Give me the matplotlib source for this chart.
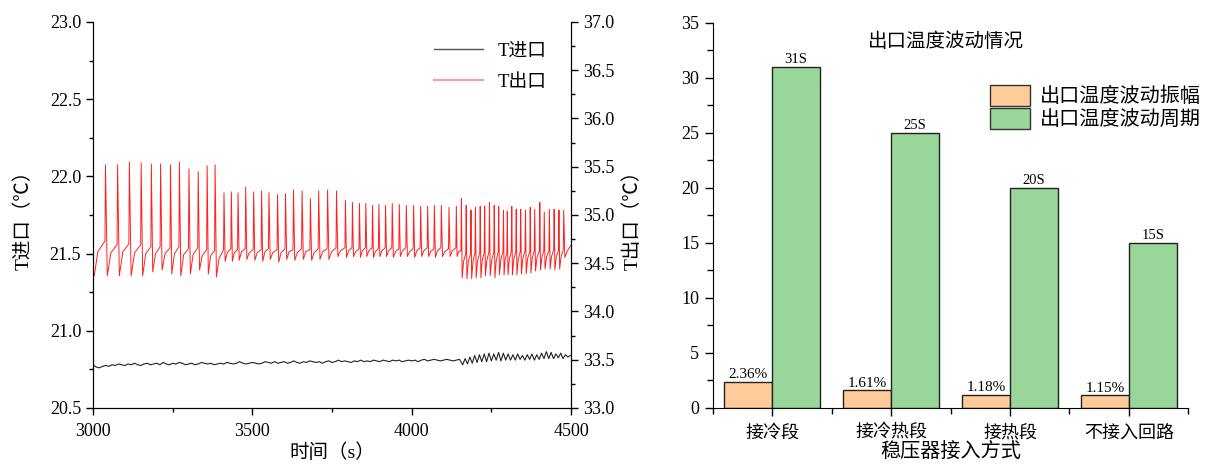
import numpy as np
import matplotlib
matplotlib.use('Agg')
import matplotlib.pyplot as plt
from matplotlib.ticker import MultipleLocator, FormatStrFormatter
from matplotlib.patches import Patch
from matplotlib.lines import Line2D

plt.rcParams['font.family'] = ['Liberation Serif', 'Noto Sans CJK SC']
plt.rcParams['axes.unicode_minus'] = False

# ---- left chart: inlet temperature (black, left axis), sampled every 10 s up to 4150 s
black_a = [
    20.78, 20.765, 20.76, 20.77, 20.775, 20.77, 20.78, 20.775, 20.785, 20.78,
    20.775, 20.785, 20.78, 20.79, 20.78, 20.775, 20.785, 20.79, 20.78, 20.785,
    20.79, 20.78, 20.795, 20.785, 20.78, 20.79, 20.785, 20.795, 20.79, 20.78,
    20.785, 20.79, 20.78, 20.785, 20.795, 20.79, 20.785, 20.79, 20.78, 20.785,
    20.79, 20.785, 20.795, 20.79, 20.785, 20.79, 20.8, 20.79, 20.785, 20.79,
    20.795, 20.79, 20.785, 20.79, 20.8, 20.795, 20.79, 20.8, 20.79, 20.795,
    20.8, 20.79, 20.795, 20.805, 20.795, 20.79, 20.8, 20.795, 20.805, 20.8,
    20.795, 20.8, 20.79, 20.8, 20.805, 20.795, 20.8, 20.81, 20.8, 20.805,
    20.8, 20.795, 20.805, 20.8, 20.81, 20.8, 20.805, 20.8, 20.81, 20.805,
    20.8, 20.81, 20.805, 20.8, 20.81, 20.805, 20.81, 20.8, 20.805, 20.81,
    20.805, 20.81, 20.8, 20.81, 20.815, 20.805, 20.81, 20.815, 20.81, 20.805,
    20.81, 20.815, 20.81, 20.805, 20.81, 20.815,
]
# after 4160 s the inlet oscillates, sampled every 7.5 s
black_b = [
    20.78, 20.82, 20.785, 20.83, 20.79, 20.84, 20.795, 20.845, 20.8, 20.85,
    20.8, 20.855, 20.805, 20.85, 20.81, 20.86, 20.805, 20.855, 20.81, 20.85,
    20.81, 20.845, 20.81, 20.85, 20.815, 20.84, 20.81, 20.845, 20.815, 20.85,
    20.81, 20.845, 20.815, 20.855, 20.82, 20.865, 20.82, 20.86, 20.82, 20.85,
    20.825, 20.855, 20.82, 20.845, 20.83, 20.84,
]

# ---- outlet temperature (red, right axis): one entry per spike
spike_t = [
    3039, 3077, 3114, 3151, 3183, 3212, 3243, 3271, 3301, 3330, 3358, 3383,
    3411, 3434, 3455, 3479, 3504, 3529, 3552, 3579, 3604, 3629, 3656, 3682,
    3708, 3736, 3764, 3792, 3814, 3836, 3856, 3877, 3897, 3918, 3939, 3961,
    3983, 4006, 4028, 4050, 4071, 4093, 4117, 4140,
    4156, 4171, 4186, 4200, 4215, 4229, 4244, 4259, 4273, 4288, 4300, 4314,
    4328, 4342, 4357, 4372, 4386, 4402, 4416, 4432, 4447, 4462, 4477,
]
spike_peak = [
    35.52, 35.52, 35.55, 35.54, 35.53, 35.53, 35.52, 35.55, 35.48, 35.45, 35.51, 35.52,
    35.23, 35.24, 35.23, 35.29, 35.24, 35.25, 35.23, 35.21, 35.22, 35.26, 35.25, 35.17,
    35.25, 35.26, 35.25, 35.15, 35.13, 35.12, 35.12, 35.10, 35.11, 35.10, 35.12, 35.11,
    35.10, 35.10, 35.09, 35.09, 35.10, 35.10, 35.08, 35.09,
    35.17, 35.10, 35.05, 35.08, 35.09, 35.09, 35.13, 35.10, 35.09, 35.05, 35.04, 35.09,
    35.06, 35.06, 35.05, 35.08, 35.06, 35.13, 35.03, 35.06, 35.06, 35.05, 35.05,
]
spike_low = [
    34.37, 34.37, 34.37, 34.37, 34.41, 34.43, 34.39, 34.37, 34.39, 34.43, 34.39, 34.36,
    34.52, 34.52, 34.53, 34.54, 34.53, 34.52, 34.54, 34.51, 34.54, 34.53, 34.54, 34.53,
    34.54, 34.54, 34.57, 34.56, 34.57, 34.56, 34.57, 34.56, 34.57, 34.57, 34.56, 34.57,
    34.57, 34.56, 34.57, 34.57, 34.56, 34.57, 34.57, 34.57,
    34.35, 34.34, 34.34, 34.35, 34.35, 34.37, 34.37, 34.35, 34.38, 34.38, 34.38, 34.38,
    34.38, 34.39, 34.39, 34.40, 34.42, 34.43, 34.44, 34.44, 34.43, 34.44, 34.56,
]
spike_knee = [
    34.61, 34.62, 34.61, 34.60, 34.60, 34.60, 34.60, 34.59, 34.59, 34.58, 34.58, 34.55,
    34.61, 34.61, 34.62, 34.61, 34.61, 34.62, 34.61, 34.61, 34.62, 34.61, 34.62, 34.61,
    34.62, 34.62, 34.63, 34.63, 34.62, 34.63, 34.63, 34.62, 34.63, 34.63, 34.62, 34.63,
    34.62, 34.63, 34.63, 34.62, 34.63, 34.62, 34.63, 34.62,
    34.52, 34.52, 34.52, 34.53, 34.53, 34.53, 34.53, 34.53, 34.54, 34.54, 34.54, 34.54,
    34.54, 34.55, 34.55, 34.55, 34.56, 34.56, 34.57, 34.57, 34.57, 34.57, 34.62,
]
spike_pre = [
    34.73, 34.69, 34.70, 34.69, 34.67, 34.67, 34.66, 34.67, 34.65, 34.66, 34.64, 34.63,
    34.64, 34.65, 34.64, 34.65, 34.64, 34.64, 34.65, 34.64, 34.65, 34.64, 34.65, 34.64,
    34.65, 34.65, 34.66, 34.66, 34.66, 34.65, 34.66, 34.66, 34.65, 34.66, 34.66, 34.65,
    34.66, 34.65, 34.66, 34.66, 34.65, 34.66, 34.65, 34.66,
    34.63, 34.60, 34.60, 34.61, 34.61, 34.61, 34.62, 34.61, 34.62, 34.62, 34.61, 34.62,
    34.62, 34.62, 34.63, 34.62, 34.63, 34.63, 34.63, 34.63, 34.64, 34.63, 34.64,
]
red_start_t = [3000, 3004, 3015]
red_start_v = [34.42, 34.37, 34.62]
red_end_t, red_end_v = 4500, 34.69

# ---- right chart
categories = ['接冷段', '接冷热段', '接热段', '不接入回路']
amplitude = [2.36, 1.61, 1.18, 1.15]
period = [31, 25, 20, 15]

# assemble the red trace from the per-spike readings
red_t = list(red_start_t)
red_v = list(red_start_v)
for i in range(len(spike_t)):
    t0 = spike_t[i]
    nxt = spike_t[i + 1] if i + 1 < len(spike_t) else red_end_t
    per = nxt - t0
    red_t += [t0 - 1.5, t0, t0 + 0.15 * per, t0 + 0.45 * per]
    red_v += [spike_pre[i], spike_peak[i], spike_low[i], spike_knee[i]]
red_t.append(red_end_t)
red_v.append(red_end_v)

black_t = np.concatenate([3000 + 10 * np.arange(len(black_a)),
                          4160 + 7.5 * np.arange(len(black_b))])
black_v = np.array(black_a + black_b)

fig = plt.figure(figsize=(12.05, 4.65), dpi=100)

# left panel
ax1 = fig.add_axes([0.0772, 0.1226, 0.3967, 0.8301])
ax1r = ax1.twinx()
ax1.plot(black_t, black_v, color='#222222', lw=0.8)
ax1r.plot(red_t, red_v, color='#ff2020', lw=0.7)

ax1.set_xlim(3000, 4500)
ax1.set_ylim(20.5, 23.0)
ax1r.set_ylim(33.0, 37.0)
ax1.xaxis.set_major_locator(MultipleLocator(500))
ax1.xaxis.set_minor_locator(MultipleLocator(250))
ax1.yaxis.set_major_locator(MultipleLocator(0.5))
ax1.yaxis.set_minor_locator(MultipleLocator(0.25))
ax1.yaxis.set_major_formatter(FormatStrFormatter('%.1f'))
ax1r.yaxis.set_major_locator(MultipleLocator(0.5))
ax1r.yaxis.set_minor_locator(MultipleLocator(0.25))
ax1r.yaxis.set_major_formatter(FormatStrFormatter('%.1f'))
for a in (ax1, ax1r):
    a.spines['top'].set_visible(False)
    a.tick_params(which='major', direction='out', length=5, width=1, labelsize=13)
    a.tick_params(which='minor', direction='out', length=3, width=1)
ax1.tick_params(axis='x', pad=6)
ax1.set_xlabel('时间（s）', fontsize=14, labelpad=2)
ax1.set_ylabel('T进口（℃）', fontsize=14, labelpad=12)
ax1r.set_ylabel('T出口（℃）', fontsize=14, labelpad=6)

handles = [Line2D([], [], color='#555555', lw=1), Line2D([], [], color='#ff9999', lw=1.5)]
ax1r.legend(handles, ['T进口', 'T出口'], loc='upper right', bbox_to_anchor=(0.985, 0.99),
            frameon=False, fontsize=13.5, handlelength=2.6, labelspacing=0.75)

# right panel
ax2 = fig.add_axes([0.5913, 0.1226, 0.3950, 0.8280])
x = np.arange(len(categories))
w = 0.4
b1 = ax2.bar(x - w, amplitude, width=w, align='edge', color='#ffcc99',
             edgecolor='#222222', linewidth=1)
b2 = ax2.bar(x, period, width=w, align='edge', color='#99d699',
             edgecolor='#222222', linewidth=1)
for rect, val in zip(b1, amplitude):
    ax2.text(rect.get_x() + rect.get_width() / 2, val + 0.05, f'{val:.2f}%',
             ha='center', va='bottom', fontsize=11)
for rect, val in zip(b2, period):
    ax2.text(rect.get_x() + rect.get_width() / 2, val + 0.05, f'{val}S',
             ha='center', va='bottom', fontsize=10.5)

ax2.set_xlim(-0.5, 3.5)
ax2.set_ylim(0, 35)
ax2.set_xticks(x)
ax2.set_xticklabels(categories, fontsize=12.5)
ax2.set_xticks(np.arange(-0.5, 4, 1), minor=True)
ax2.yaxis.set_major_locator(MultipleLocator(5))
ax2.yaxis.set_minor_locator(MultipleLocator(2.5))
ax2.spines['top'].set_visible(False)
ax2.spines['right'].set_visible(False)
ax2.tick_params(which='major', direction='out', length=6, width=1, labelsize=13)
ax2.tick_params(which='minor', direction='out', length=4, width=1)
ax2.tick_params(axis='x', pad=6)
ax2.set_xlabel('稳压器接入方式', fontsize=14.5, labelpad=1)
ax2.text(0.49, 0.975, '出口温度波动情况', transform=ax2.transAxes,
         ha='center', va='top', fontsize=14)

leg_handles = [Patch(facecolor='#ffcc99', edgecolor='#333333'),
               Patch(facecolor='#99d699', edgecolor='#333333')]
ax2.legend(leg_handles, ['出口温度波动振幅', '出口温度波动周期'], loc='upper left',
           bbox_to_anchor=(990 / 1205, 1 - 85 / 465), bbox_transform=fig.transFigure,
           frameon=False, fontsize=14.5, borderpad=0, borderaxespad=0,
           handlelength=2.0, handleheight=1.2, handletextpad=0.5, labelspacing=0.05)

fig.savefig('out.png', dpi=100)
